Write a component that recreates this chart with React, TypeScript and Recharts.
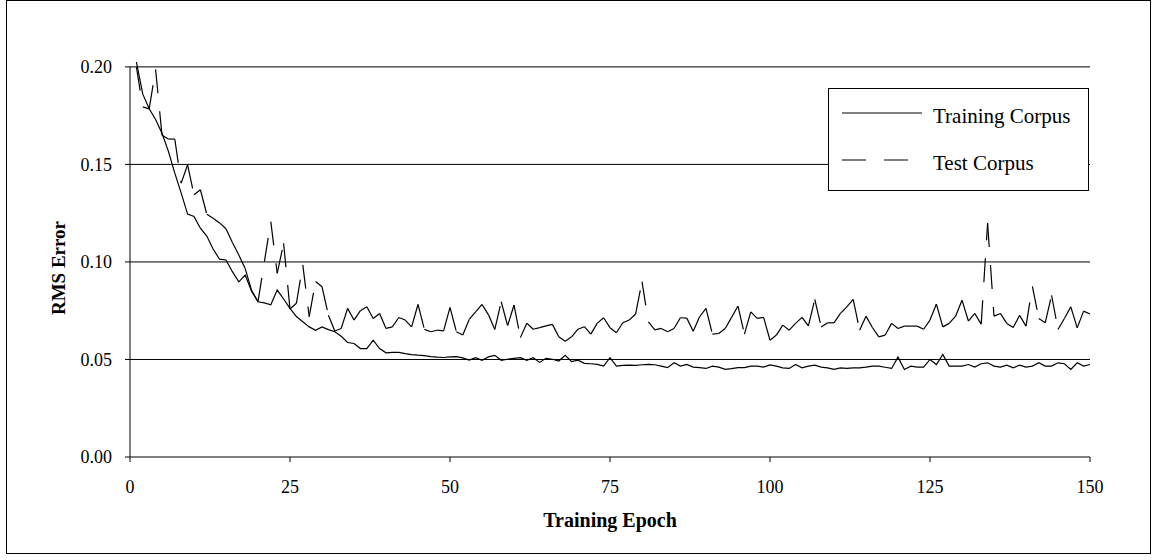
import React from "react";
import { Legend, Line, LineChart, ReferenceLine, XAxis, YAxis } from "recharts";

// RMS error per training epoch.
const trainingError = [
  0.2025, 0.186, 0.1785, 0.173, 0.166, 0.1567, 0.1455, 0.1353, 0.1245, 0.1233,
  0.1173, 0.1133, 0.1065, 0.1014, 0.101, 0.095, 0.0898, 0.0933, 0.085, 0.0796,
  0.079, 0.078, 0.0856, 0.081, 0.0762, 0.072, 0.0693, 0.0667, 0.065, 0.0667,
  0.0653, 0.0642, 0.0619, 0.0587, 0.0582, 0.0556, 0.0556, 0.0599, 0.0556, 0.0534,
  0.0536, 0.0536, 0.053, 0.0525, 0.0522, 0.052, 0.0515, 0.0512, 0.051, 0.0513,
  0.0515, 0.0508, 0.0497, 0.0509, 0.0496, 0.0513, 0.0521, 0.0496, 0.0501, 0.0506,
  0.0509, 0.0496, 0.0509, 0.0485, 0.0506, 0.0501, 0.0492, 0.0521, 0.0489, 0.0496,
  0.048, 0.0478, 0.0475, 0.0466, 0.0509, 0.0466, 0.047, 0.0471, 0.047, 0.0473,
  0.0475, 0.0473, 0.0466, 0.0458, 0.0483, 0.0466, 0.0475, 0.0461, 0.0458, 0.0454,
  0.0466, 0.0461, 0.0449, 0.0453, 0.0458, 0.0458, 0.0466, 0.0466, 0.0461, 0.0472,
  0.0466, 0.0457, 0.0454, 0.0474, 0.0457, 0.0466, 0.0471, 0.0461, 0.0457, 0.0449,
  0.0457, 0.0454, 0.0457, 0.0457, 0.0461, 0.0466, 0.0466, 0.046, 0.0454, 0.0512,
  0.0449, 0.0466, 0.0461, 0.0461, 0.05, 0.0474, 0.0526, 0.0466, 0.0466, 0.0466,
  0.0474, 0.0461, 0.0478, 0.0483, 0.0466, 0.0461, 0.0471, 0.0457, 0.0471, 0.0461,
  0.0466, 0.0483, 0.0466, 0.0466, 0.0483, 0.0478, 0.0449, 0.0483, 0.0466, 0.0474,
];

const testError = [
  0.2, 0.1795, 0.1785, 0.1987, 0.165, 0.163, 0.163, 0.1404, 0.1498, 0.1344,
  0.137, 0.1245, 0.1224, 0.12, 0.117, 0.11, 0.1036, 0.0966, 0.0854, 0.0797,
  0.1002, 0.1207, 0.0942, 0.1096, 0.0759, 0.0788, 0.0985, 0.072, 0.09, 0.0873,
  0.0727, 0.0646, 0.0659, 0.0762, 0.0702, 0.075, 0.077, 0.071, 0.0736, 0.0659,
  0.0667, 0.0715, 0.0702, 0.0667, 0.0782, 0.0654, 0.0642, 0.065, 0.0647, 0.0767,
  0.0642, 0.0625, 0.0705, 0.0744, 0.0782, 0.073, 0.0654, 0.0796, 0.0673, 0.0779,
  0.0612, 0.0686, 0.0655, 0.0663, 0.0672, 0.068, 0.0616, 0.0594, 0.0616, 0.0655,
  0.0668, 0.063, 0.0685, 0.0714, 0.0663, 0.0637, 0.0688, 0.0702, 0.0733, 0.0899,
  0.0693, 0.0652, 0.0659, 0.0642, 0.0659, 0.0714, 0.0712, 0.0645, 0.0719, 0.0762,
  0.063, 0.0633, 0.0659, 0.0716, 0.0774, 0.063, 0.0744, 0.0711, 0.0716, 0.0599,
  0.0625, 0.0676, 0.065, 0.0685, 0.0716, 0.0672, 0.0808, 0.0667, 0.0688, 0.0688,
  0.0736, 0.077, 0.0808, 0.065, 0.0722, 0.0664, 0.0616, 0.0625, 0.0685, 0.0659,
  0.0671, 0.0671, 0.0671, 0.0655, 0.0702, 0.0784, 0.0667, 0.0685, 0.0722, 0.0804,
  0.0697, 0.0736, 0.0681, 0.1199, 0.0722, 0.0736, 0.0685, 0.0664, 0.0726, 0.0671,
  0.0875, 0.071, 0.0688, 0.0829, 0.0654, 0.071, 0.077, 0.0662, 0.0748, 0.0733,
];

const epochs = trainingError.map((_, i) => i + 1);
const xTicks = [0, 25, 50, 75, 100, 125, 150];
const yTicks = [0, 0.05, 0.1, 0.15, 0.2];
const seriesOrder = ["training", "test"];

const data = epochs.map((epoch, i) => ({
  epoch,
  training: trainingError[i],
  test: testError[i],
}));

const FONT = '"Liberation Serif", "Times New Roman", serif';
const DASH = "24 18";
const TICK = { fill: "#000", fontSize: 18, fontFamily: FONT } as const;

// The old plot restarts its dash pattern on every segment, so the test
// series is drawn segment by segment from the points Recharts computes.
const testPts: { x: number; y: number }[] = [];
function testSegment(props: any) {
  const { cx, cy, index } = props;
  testPts[index] = { x: cx, y: cy };
  const prev = index > 0 ? testPts[index - 1] : null;
  if (!prev) return <g key={`seg-${index}`} />;
  return (
    <line
      key={`seg-${index}`}
      x1={prev.x}
      y1={prev.y}
      x2={cx}
      y2={cy}
      stroke="#000"
      strokeWidth={1.2}
      strokeDasharray={DASH}
      fill="none"
    />
  );
}

function renderLegend(props: any) {
  const items = [...(props.payload ?? [])].sort(
    (a: any, b: any) => seriesOrder.indexOf(a.dataKey) - seriesOrder.indexOf(b.dataKey)
  );
  return (
    <svg width={261} height={103} style={{ display: "block", background: "#fff" }}>
      <rect x={0.5} y={0.5} width={260} height={102} fill="#fff" stroke="#000" />
      {items.map((item: any, i: number) => {
        const lineY = i === 0 ? 25 : 72;
        return (
          <g key={item.value}>
            <line
              x1={14}
              x2={94}
              y1={lineY}
              y2={lineY}
              stroke="#000"
              strokeWidth={1.2}
              strokeDasharray={item.dataKey === "test" ? DASH : undefined}
            />
            <text x={105} y={lineY + 10} fontFamily={FONT} fontSize={21} fill="#000">
              {item.value}
            </text>
          </g>
        );
      })}
    </svg>
  );
}

export default function App() {
  return (
    <div style={{ position: "absolute", left: 0, top: 0, width: 1156, height: 560, background: "#fff" }}>
      <div
        style={{
          position: "absolute",
          left: 6,
          top: 0,
          width: 1143,
          height: 552,
          border: "1px solid #000",
        }}
      />
      <div style={{ position: "absolute", left: 0, top: 0 }}>
        <LineChart width={1156} height={560} data={data} margin={{ top: 62, right: 66, bottom: 60, left: 0 }}>
          <XAxis
            dataKey="epoch"
            type="number"
            domain={[0, 150]}
            ticks={xTicks}
            height={43}
            tick={TICK}
            tickSize={5}
            tickMargin={18}
            stroke="#000"
            axisLine={{ stroke: "#000" }}
            tickLine={{ stroke: "#000" }}
            label={{
              content: ({ viewBox }: any) => (
                <text
                  x={viewBox.x + viewBox.width / 2}
                  y={527}
                  textAnchor="middle"
                  fontFamily={FONT}
                  fontWeight="bold"
                  fontSize={20}
                  fill="#000"
                >
                  Training Epoch
                </text>
              ),
            }}
          />
          <YAxis
            type="number"
            domain={[0, "dataMax"]}
            ticks={yTicks}
            width={130}
            tick={TICK}
            tickSize={5}
            tickMargin={13}
            tickFormatter={(v: number) => v.toFixed(2)}
            axisLine={false}
            tickLine={{ stroke: "#000" }}
            label={{
              content: () => (
                <text
                  transform="translate(65,268) rotate(-90)"
                  textAnchor="middle"
                  fontFamily={FONT}
                  fontWeight="bold"
                  fontSize={19}
                  fill="#000"
                >
                  RMS Error
                </text>
              ),
            }}
          />
          {yTicks
            .filter((t) => t > 0)
            .map((t) => (
              <ReferenceLine key={t} y={t} stroke="#000" />
            ))}
          <ReferenceLine
            segment={[
              { x: 0, y: 0 },
              { x: 0, y: 0.2 },
            ]}
            stroke="#000"
          />
          <Line
            dataKey="training"
            name="Training Corpus"
            type="linear"
            stroke="#000"
            strokeWidth={1.2}
            dot={false}
            activeDot={false}
            isAnimationActive={false}
          />
          <Line
            dataKey="test"
            name="Test Corpus"
            type="linear"
            stroke="none"
            dot={testSegment}
            activeDot={false}
            isAnimationActive={false}
          />
          <Legend
            layout="vertical"
            align="center"
            verticalAlign="middle"
            content={renderLegend}
            wrapperStyle={{ left: 828, top: 88, width: 261, height: 103 }}
          />
        </LineChart>
      </div>
    </div>
  );
}
